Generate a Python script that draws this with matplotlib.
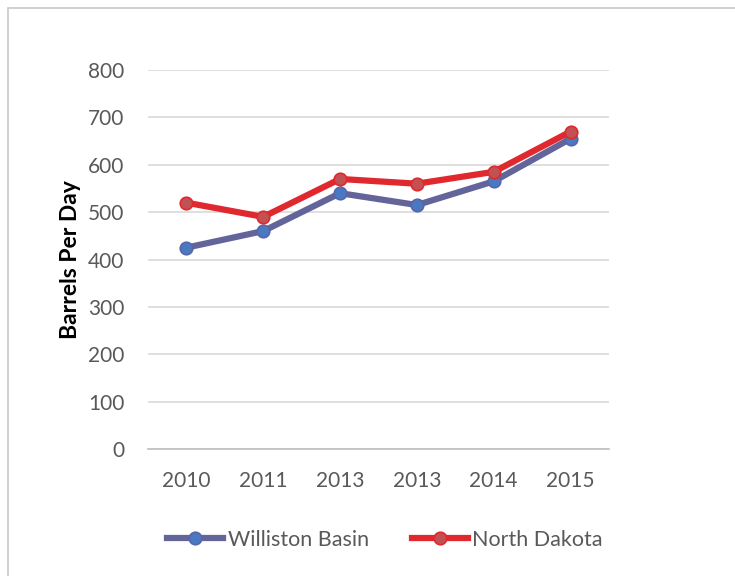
import matplotlib
matplotlib.use("Agg")
import matplotlib.pyplot as plt
from matplotlib.patches import Rectangle

categories = ["2010", "2011", "2013", "2013", "2014", "2015"]
williston = [425, 460, 540, 515, 565, 655]
north_dakota = [520, 490, 570, 560, 585, 670]
yticks = [0, 100, 200, 300, 400, 500, 600, 700, 800]

plt.rcParams['font.family'] = ['Lato', 'DejaVu Sans']

fig = plt.figure(figsize=(7.35, 5.76), dpi=100)
fig.patch.set_facecolor("white")
# outer chart border
fig.patches.append(Rectangle((8/735, -0.05), 1.1, 1 - 8/576 + 0.05, transform=fig.transFigure,
                             fill=False, edgecolor="#C8C8C8", linewidth=1.2))

ax = fig.add_axes([148/735, 1 - 449/576, (609-148)/735, (449-70)/576])
x = list(range(len(categories)))

ax.plot(x, williston, color="#62649A", linewidth=4.5, marker="o", markersize=9,
        markerfacecolor="#4A79C2", markeredgecolor="#5666A8", markeredgewidth=1.2,
        label="Williston Basin", zorder=3)
ax.plot(x, north_dakota, color="#E0282F", linewidth=4.5, marker="o", markersize=9,
        markerfacecolor="#C45152", markeredgecolor="#E0282F", markeredgewidth=1.2,
        label="North Dakota", zorder=4)

ax.set_xlim(-0.5, len(categories) - 0.5)
ax.set_ylim(0, 800)
ax.set_yticks(yticks)
ax.set_xticks(x)
ax.set_xticklabels(categories)
ax.yaxis.grid(True, color="#D9D9D9", linewidth=1.2)
ax.set_axisbelow(True)
for s in ["top", "right", "left"]:
    ax.spines[s].set_visible(False)
ax.spines["bottom"].set_color("#BFBFBF")
ax.spines["bottom"].set_linewidth(1.2)
ax.tick_params(length=0, labelsize=15, colors="#595959")
ax.tick_params(axis="y", pad=17)
ax.tick_params(axis="x", pad=16)
ax.set_ylabel("Barrels Per Day", fontsize=16.5, fontweight="bold", color="black", labelpad=5)

leg = fig.legend(loc="center", bbox_to_anchor=(385/735, 1 - 540/576), ncol=2, frameon=False,
                 fontsize=15.5, handlelength=2.6, columnspacing=2.0, handletextpad=0.2)
for t in leg.get_texts():
    t.set_color("#595959")

fig.savefig("out.png", dpi=100, facecolor="white")
